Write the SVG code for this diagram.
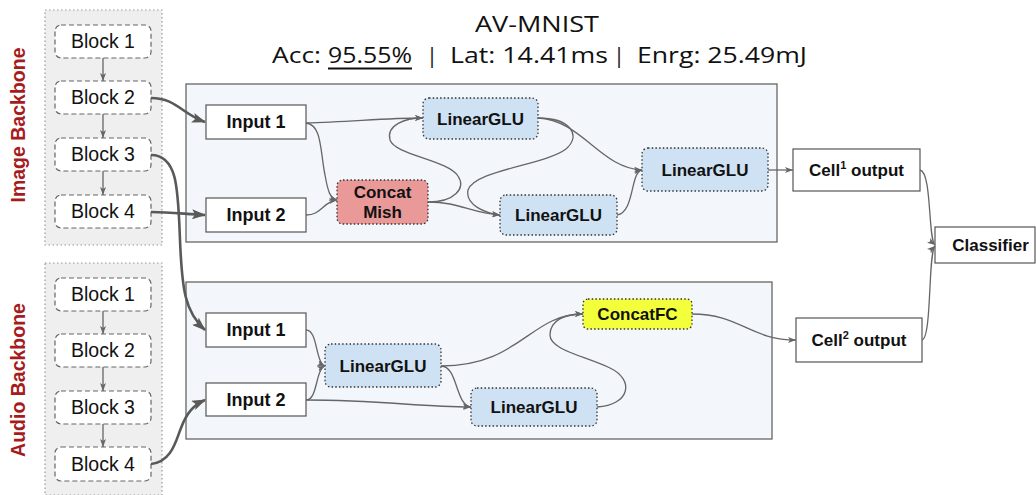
<svg xmlns="http://www.w3.org/2000/svg" width="1036" height="495" viewBox="0 0 1036 495">
<style>
.bb{fill:#efefef;stroke:#999;stroke-width:1.2;stroke-dasharray:1.5 2.5}
.blk{fill:#fff;stroke:#666;stroke-width:1.2;stroke-dasharray:5 3}
.blkt{font-family:"Liberation Sans",Arial,sans-serif;font-size:19.5px;fill:#111;text-anchor:middle}
.bbl{font-family:"Liberation Sans",Arial,sans-serif;font-size:19.5px;font-weight:bold;fill:#a61c1c;text-anchor:middle}
.cell{fill:#f3f6fb;stroke:#666;stroke-width:1.3}
.box{fill:#fff;stroke:#555;stroke-width:1.2}
.lg{fill:#cfe2f3;stroke:#333;stroke-width:1.3;stroke-dasharray:1.5 2.2}
.cm{fill:#ea9999;stroke:#333;stroke-width:1.3;stroke-dasharray:1.5 2.2}
.cf{fill:#f2ff3a;stroke:#333;stroke-width:1.3;stroke-dasharray:1.5 2.2}
.t{font-family:"Liberation Sans",Arial,sans-serif;font-size:17px;font-weight:bold;fill:#111;text-anchor:middle}
.ti{font-family:"Liberation Sans",Arial,sans-serif;font-size:18px;font-weight:bold;fill:#111;text-anchor:middle}
.hd{font-family:"Open Sans",Lato,sans-serif;font-size:21px;fill:#111}
.thin{fill:none;stroke:#666;stroke-width:1.3;marker-end:url(#sm)}
.thick{fill:none;stroke:#595959;stroke-width:2.6;marker-end:url(#big)}
</style>
<defs>
<marker id="big" viewBox="0 0 14 10" refX="13" refY="5" markerWidth="14" markerHeight="10" orient="auto" markerUnits="userSpaceOnUse"><path d="M0,0 L14,5 L0,10 L3,5 z" fill="#595959"/></marker>
<marker id="sm" viewBox="0 0 8 6" refX="8" refY="3" markerWidth="8" markerHeight="6" orient="auto" markerUnits="userSpaceOnUse"><path d="M0,0 L8,3 L0,6 L2,3 z" fill="#666"/></marker>
</defs>

<g id="title">
<text class="hd" x="537" y="31.5" text-anchor="middle" textLength="124" lengthAdjust="spacingAndGlyphs">AV-MNIST</text>
<text class="hd" x="272" y="63" textLength="49" lengthAdjust="spacingAndGlyphs">Acc:</text>
<text class="hd" x="328" y="63" textLength="84" lengthAdjust="spacingAndGlyphs">95.55%</text>
<line x1="328" y1="68.5" x2="412" y2="68.5" stroke="#111" stroke-width="2"/>
<text class="hd" x="432" y="63" text-anchor="middle">|</text>
<text class="hd" x="450" y="63" textLength="158" lengthAdjust="spacingAndGlyphs">Lat: 14.41ms</text>
<text class="hd" x="619" y="63" text-anchor="middle">|</text>
<text class="hd" x="637" y="63" textLength="170" lengthAdjust="spacingAndGlyphs">Enrg: 25.49mJ</text>
</g>

<g id="image-backbone">
<rect class="bb" x="45" y="10" width="117" height="235"/>
<text class="bbl" transform="translate(25,125) rotate(-90)">Image Backbone</text>
</g>
<g id="audio-backbone">
<rect class="bb" x="45" y="263" width="117" height="232"/>
<text class="bbl" transform="translate(25,380) rotate(-90)">Audio Backbone</text>
</g>

<g id="img-block1"><rect class="blk" x="55" y="25" width="96" height="33" rx="6"/><text class="blkt" x="103" y="48">Block 1</text></g>
<g id="img-block2"><rect class="blk" x="55" y="81" width="96" height="33" rx="6"/><text class="blkt" x="103" y="104">Block 2</text></g>
<g id="img-block3"><rect class="blk" x="55" y="138" width="96" height="33" rx="6"/><text class="blkt" x="103" y="161">Block 3</text></g>
<g id="img-block4"><rect class="blk" x="55" y="195" width="96" height="33" rx="6"/><text class="blkt" x="103" y="218">Block 4</text></g>

<g id="aud-block1"><rect class="blk" x="55" y="278" width="96" height="33" rx="6"/><text class="blkt" x="103" y="301">Block 1</text></g>
<g id="aud-block2"><rect class="blk" x="55" y="334" width="96" height="33" rx="6"/><text class="blkt" x="103" y="357">Block 2</text></g>
<g id="aud-block3"><rect class="blk" x="55" y="391" width="96" height="33" rx="6"/><text class="blkt" x="103" y="414">Block 3</text></g>
<g id="aud-block4"><rect class="blk" x="55" y="447" width="96" height="34" rx="6"/><text class="blkt" x="103" y="471">Block 4</text></g>

<g id="cell1"><rect class="cell" x="186" y="84" width="591" height="158"/></g>
<g id="cell2"><rect class="cell" x="186" y="282" width="586" height="157"/></g>

<g id="c1-input1"><rect class="box" x="206" y="105" width="100" height="34"/><text class="ti" x="256" y="128">Input 1</text></g>
<g id="c1-input2"><rect class="box" x="206" y="198" width="100" height="34"/><text class="ti" x="256" y="221">Input 2</text></g>
<g id="c1-concatmish"><rect class="cm" x="337" y="180" width="91" height="44" rx="6"/><text class="t" x="382.5" y="198">Concat</text><text class="t" x="382.5" y="218">Mish</text></g>
<g id="c1-lg-top"><rect class="lg" x="423" y="98" width="115" height="41" rx="6"/><text class="t" x="480.5" y="124.5">LinearGLU</text></g>
<g id="c1-lg-mid"><rect class="lg" x="500" y="195" width="117" height="40" rx="6"/><text class="t" x="558.5" y="221">LinearGLU</text></g>
<g id="c1-lg-right"><rect class="lg" x="642" y="148" width="126" height="43" rx="6"/><text class="t" x="705" y="175.5">LinearGLU</text></g>
<g id="cell1-output"><rect class="box" x="793" y="149" width="127" height="42"/><text class="t" x="856.5" y="176">Cell<tspan font-size="11" dy="-7">1</tspan><tspan dy="7"> output</tspan></text></g>
<g id="classifier"><rect class="box" x="935" y="227" width="100" height="36"/><text class="t" x="990.5" y="251">Classifier</text></g>
<g id="cell2-output"><rect class="box" x="796" y="318" width="126" height="44"/><text class="t" x="859" y="346">Cell<tspan font-size="11" dy="-7">2</tspan><tspan dy="7"> output</tspan></text></g>

<g id="c2-input1"><rect class="box" x="206" y="313" width="100" height="34"/><text class="ti" x="256" y="336">Input 1</text></g>
<g id="c2-input2"><rect class="box" x="206" y="383" width="100" height="33"/><text class="ti" x="256" y="406">Input 2</text></g>
<g id="c2-lg-left"><rect class="lg" x="325" y="344" width="116" height="43" rx="6"/><text class="t" x="383" y="371.5">LinearGLU</text></g>
<g id="c2-lg-bottom"><rect class="lg" x="471" y="388" width="126" height="38" rx="6"/><text class="t" x="534" y="413">LinearGLU</text></g>
<g id="c2-concatfc"><rect class="cf" x="583" y="299" width="109" height="30" rx="5"/><text class="t" x="637.5" y="320">ConcatFC</text></g>

<g id="connectors">
<path class="thin" d="M103,58 L103,81"/>
<path class="thin" d="M103,114 L103,138"/>
<path class="thin" d="M103,171 L103,195"/>
<path class="thin" d="M103,311 L103,334"/>
<path class="thin" d="M103,367 L103,391"/>
<path class="thin" d="M103,424 L103,447"/>

<path class="thick" d="M151,98 C176,98 182,114 205,122"/>
<path class="thick" d="M151,155 C178,155 178,190 180,240 C182,290 185,312 205,330"/>
<path class="thick" d="M151,212 C170,212 185,214 205,215"/>
<path class="thick" d="M151,464 C172,462 176,440 181,428 C187,412 194,405 205,400"/>

<path class="thin" d="M306,123 C350,122 385,118 423,118"/>
<path class="thin" d="M306,123 C322,125 320,150 325,175 C328,192 330,198 337,200"/>
<path class="thin" d="M306,215 C322,215 322,202 337,200"/>
<path class="thin" d="M428,202 C455,202 466,188 458,176 C448,160 395,155 390,140 C386,125 405,118 423,118"/>
<path class="thin" d="M428,202 C460,202 470,213 500,215"/>
<path class="thin" d="M538,118 C570,118 582,135 566,149 C545,165 475,170 468,190 C465,205 485,213 500,215"/>
<path class="thin" d="M538,118 C582,120 600,168 642,170"/>
<path class="thin" d="M617,215 C635,212 630,172 642,170"/>
<path class="thin" d="M768,170 L793,170"/>
<path class="thin" d="M920,170 C932,172 928,240 935,245"/>
<path class="thin" d="M922,340 C932,338 928,252 935,246"/>

<path class="thin" d="M306,330 C318,330 315,362 325,366"/>
<path class="thin" d="M306,400 C318,400 315,370 325,366"/>
<path class="thin" d="M306,400 C380,400 420,407 471,407"/>
<path class="thin" d="M441,366 C458,366 455,405 471,407"/>
<path class="thin" d="M441,366 C520,366 530,314 583,314"/>
<path class="thin" d="M597,407 C630,405 635,380 610,368 C585,356 550,350 550,335 C550,320 565,314 583,314"/>
<path class="thin" d="M692,314 C740,314 750,340 796,340"/>
</g>
</svg>
